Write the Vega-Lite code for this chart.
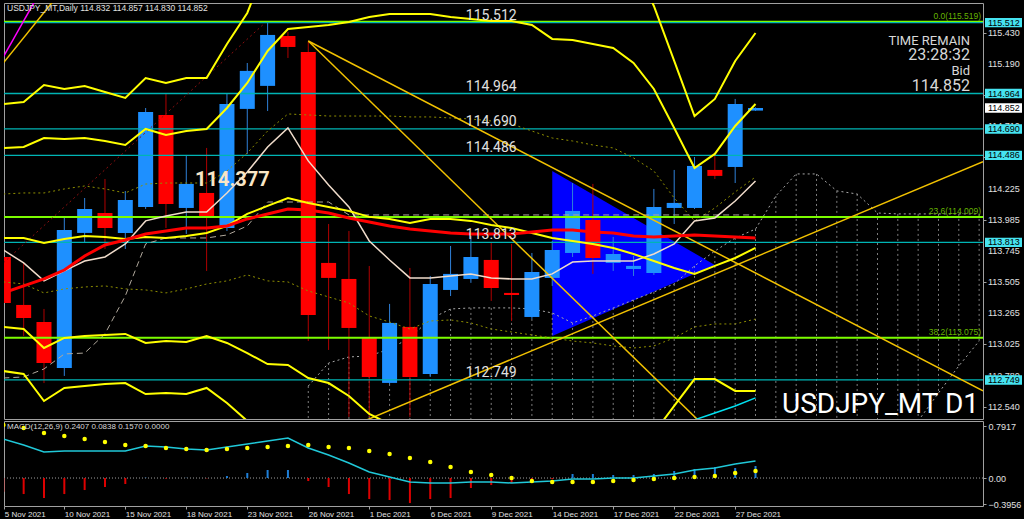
{
  "$schema": "https://vega.github.io/schema/vega-lite/v6.json",
  "background": "#000000",
  "padding": {"left": 2, "top": 2, "right": 0, "bottom": 0},
  "spacing": 2,
  "bounds": "flush",
  "config": {
    "view": {"stroke": "#a0a0a0", "strokeWidth": 1},
    "axis": {"labelColor": "#e0e0e0", "labelFont": "Liberation Sans", "labelFontSize": 9, "tickColor": "#a0a0a0", "tickSize": 3, "domain": false, "grid": false, "labelPadding": 2, "labelOverlap": false, "labelBound": false, "labelFlush": false}
  },
  "datasets": {
    "candles": [
      {"i":0,"o":113.700,"h":113.746,"l":113.282,"c":113.344},
      {"i":1,"o":113.329,"h":113.654,"l":113.089,"c":113.228},
      {"i":2,"o":113.197,"h":113.298,"l":112.725,"c":112.880},
      {"i":3,"o":112.842,"h":114.002,"l":112.780,"c":113.909},
      {"i":4,"o":113.886,"h":114.156,"l":113.808,"c":114.071},
      {"i":5,"o":114.040,"h":114.303,"l":113.762,"c":113.924},
      {"i":6,"o":113.886,"h":114.210,"l":113.762,"c":114.141},
      {"i":7,"o":114.087,"h":114.852,"l":114.071,"c":114.822},
      {"i":8,"o":114.798,"h":114.961,"l":113.924,"c":114.110},
      {"i":9,"o":114.079,"h":114.489,"l":113.878,"c":114.265},
      {"i":10,"o":114.195,"h":114.543,"l":113.592,"c":114.017},
      {"i":11,"o":113.924,"h":114.961,"l":113.901,"c":114.883},
      {"i":12,"o":114.845,"h":115.200,"l":114.497,"c":115.139},
      {"i":13,"o":115.023,"h":115.518,"l":114.829,"c":115.417},
      {"i":14,"o":115.409,"h":115.440,"l":115.239,"c":115.324},
      {"i":15,"o":115.286,"h":115.363,"l":113.050,"c":113.252},
      {"i":16,"o":113.654,"h":113.955,"l":112.981,"c":113.538},
      {"i":17,"o":113.530,"h":113.901,"l":112.463,"c":113.151},
      {"i":18,"o":113.074,"h":113.630,"l":112.463,"c":112.772},
      {"i":19,"o":112.726,"h":113.337,"l":112.718,"c":113.190},
      {"i":20,"o":113.159,"h":113.615,"l":112.463,"c":112.772},
      {"i":21,"o":112.795,"h":113.553,"l":112.772,"c":113.491},
      {"i":22,"o":113.445,"h":113.785,"l":113.398,"c":113.569},
      {"i":23,"o":113.530,"h":113.862,"l":113.500,"c":113.700},
      {"i":24,"o":113.677,"h":113.816,"l":113.360,"c":113.460},
      {"i":25,"o":113.422,"h":113.801,"l":113.205,"c":113.406},
      {"i":26,"o":113.236,"h":113.731,"l":113.221,"c":113.584},
      {"i":27,"o":113.538,"h":113.824,"l":113.476,"c":113.754},
      {"i":28,"o":113.731,"h":114.272,"l":113.700,"c":114.056},
      {"i":29,"o":113.986,"h":114.265,"l":113.569,"c":113.692},
      {"i":30,"o":113.654,"h":113.855,"l":113.592,"c":113.723},
      {"i":31,"o":113.607,"h":113.708,"l":113.553,"c":113.631},
      {"i":32,"o":113.576,"h":114.226,"l":113.561,"c":114.087},
      {"i":33,"o":114.079,"h":114.373,"l":113.955,"c":114.118},
      {"i":34,"o":114.079,"h":114.473,"l":114.071,"c":114.404},
      {"i":35,"o":114.373,"h":114.504,"l":114.303,"c":114.327},
      {"i":36,"o":114.396,"h":114.922,"l":114.272,"c":114.883},
      {"i":37,"o":114.832,"h":114.857,"l":114.830,"c":114.852}
    ],
    "ind": [
      {"i":0,"mid":113.847,"up2":114.543,"up3":114.883,"lo2":113.159,"lo3":112.818,"o1u":114.187,"o1l":113.507,"beige":113.754,"ma":113.422,"kijun":112.764},
      {"i":1,"mid":113.847,"up2":114.551,"up3":114.899,"lo2":113.143,"lo3":112.795,"o1u":114.195,"o1l":113.491,"beige":113.654,"ma":113.476,"kijun":112.772},
      {"i":2,"mid":113.808,"up2":114.620,"up3":115.030,"lo2":112.996,"lo3":112.586,"o1u":114.195,"o1l":113.422,"beige":113.515,"ma":113.530,"kijun":112.834},
      {"i":3,"mid":113.839,"up2":114.613,"up3":114.999,"lo2":113.074,"lo3":112.687,"o1u":114.226,"o1l":113.453,"beige":113.592,"ma":113.599,"kijun":112.950},
      {"i":4,"mid":113.862,"up2":114.620,"up3":115.022,"lo2":113.089,"lo3":112.702,"o1u":114.249,"o1l":113.468,"beige":113.669,"ma":113.708,"kijun":112.957},
      {"i":5,"mid":113.855,"up2":114.597,"up3":114.976,"lo2":113.097,"lo3":112.718,"o1u":114.226,"o1l":113.476,"beige":113.700,"ma":113.793,"kijun":113.105},
      {"i":6,"mid":113.839,"up2":114.566,"up3":114.930,"lo2":113.105,"lo3":112.725,"o1u":114.195,"o1l":113.453,"beige":113.801,"ma":113.831,"kijun":113.399},
      {"i":7,"mid":113.855,"up2":114.690,"up3":115.084,"lo2":113.035,"lo3":112.640,"o1u":114.264,"o1l":113.445,"beige":113.979,"ma":113.878,"kijun":113.801},
      {"i":8,"mid":113.847,"up2":114.644,"up3":115.046,"lo2":113.050,"lo3":112.648,"o1u":114.272,"o1l":113.422,"beige":114.017,"ma":113.901,"kijun":113.847},
      {"i":9,"mid":113.862,"up2":114.674,"up3":115.084,"lo2":113.043,"lo3":112.640,"o1u":114.272,"o1l":113.453,"beige":114.048,"ma":113.924,"kijun":113.847},
      {"i":10,"mid":113.886,"up2":114.690,"up3":115.084,"lo2":113.089,"lo3":112.687,"o1u":114.272,"o1l":113.491,"beige":114.048,"ma":113.924,"kijun":113.847},
      {"i":11,"mid":113.940,"up2":114.852,"up3":115.347,"lo2":113.035,"lo3":112.571,"o1u":114.365,"o1l":113.515,"beige":114.195,"ma":113.940,"kijun":113.870},
      {"i":12,"mid":114.033,"up2":115.046,"up3":115.587,"lo2":112.957,"lo3":112.432,"o1u":114.504,"o1l":113.561,"beige":114.357,"ma":113.994,"kijun":113.940},
      {"i":13,"mid":114.095,"up2":115.293,"up3":115.989,"lo2":112.872,"lo3":112.200,"o1u":114.674,"o1l":113.515,"beige":114.551,"ma":114.032,"kijun":114.125},
      {"i":14,"mid":114.156,"up2":115.463,"up3":115.989,"lo2":112.865,"lo3":112.200,"o1u":114.806,"o1l":113.507,"beige":114.698,"ma":114.071,"kijun":114.125},
      {"i":15,"mid":114.118,"up2":115.479,"up3":115.989,"lo2":112.764,"lo3":112.200,"o1u":114.798,"o1l":113.437,"beige":114.443,"ma":114.063,"kijun":114.125},
      {"i":16,"mid":114.087,"up2":115.494,"up3":115.989,"lo2":112.725,"lo3":112.200,"o1u":114.790,"o1l":113.391,"beige":114.257,"ma":114.040,"kijun":114.125},
      {"i":17,"mid":114.056,"up2":115.517,"up3":115.989,"lo2":112.625,"lo3":112.200,"o1u":114.790,"o1l":113.344,"beige":114.087,"ma":114.002,"kijun":114.025},
      {"i":18,"mid":114.010,"up2":115.556,"up3":115.989,"lo2":112.486,"lo3":112.200,"o1u":114.790,"o1l":113.244,"beige":113.824,"ma":113.971,"kijun":114.025},
      {"i":19,"mid":113.994,"up2":115.579,"up3":115.989,"lo2":112.408,"lo3":112.200,"o1u":114.790,"o1l":113.197,"beige":113.677,"ma":113.940,"kijun":114.025},
      {"i":20,"mid":113.963,"up2":115.579,"up3":115.989,"lo2":112.346,"lo3":112.200,"o1u":114.783,"o1l":113.143,"beige":113.538,"ma":113.917,"kijun":114.025},
      {"i":21,"mid":113.994,"up2":115.579,"up3":115.989,"lo2":112.408,"lo3":112.200,"o1u":114.783,"o1l":113.205,"beige":113.538,"ma":113.901,"kijun":114.025},
      {"i":22,"mid":113.994,"up2":115.556,"up3":115.989,"lo2":112.432,"lo3":112.200,"o1u":114.775,"o1l":113.213,"beige":113.553,"ma":113.886,"kijun":114.025},
      {"i":23,"mid":113.979,"up2":115.541,"up3":115.989,"lo2":112.416,"lo3":112.200,"o1u":114.767,"o1l":113.190,"beige":113.569,"ma":113.878,"kijun":114.025},
      {"i":24,"mid":113.948,"up2":115.525,"up3":115.989,"lo2":112.370,"lo3":112.200,"o1u":114.752,"o1l":113.143,"beige":113.538,"ma":113.878,"kijun":114.025},
      {"i":25,"mid":113.924,"up2":115.525,"up3":115.989,"lo2":112.323,"lo3":112.200,"o1u":114.729,"o1l":113.120,"beige":113.530,"ma":113.878,"kijun":114.025},
      {"i":26,"mid":113.886,"up2":115.494,"up3":115.989,"lo2":112.277,"lo3":112.200,"o1u":114.674,"o1l":113.097,"beige":113.530,"ma":113.893,"kijun":114.025},
      {"i":27,"mid":113.847,"up2":115.386,"up3":115.989,"lo2":112.308,"lo3":112.200,"o1u":114.620,"o1l":113.074,"beige":113.569,"ma":113.909,"kijun":114.025},
      {"i":28,"mid":113.824,"up2":115.378,"up3":115.989,"lo2":112.269,"lo3":112.200,"o1u":114.597,"o1l":113.050,"beige":113.661,"ma":113.909,"kijun":114.025},
      {"i":29,"mid":113.801,"up2":115.347,"up3":115.989,"lo2":112.254,"lo3":112.200,"o1u":114.566,"o1l":113.035,"beige":113.669,"ma":113.893,"kijun":114.025},
      {"i":30,"mid":113.770,"up2":115.316,"up3":115.989,"lo2":112.223,"lo3":112.200,"o1u":114.543,"o1l":113.012,"beige":113.669,"ma":113.886,"kijun":114.025},
      {"i":31,"mid":113.723,"up2":115.200,"up3":115.989,"lo2":112.246,"lo3":112.200,"o1u":114.466,"o1l":112.996,"beige":113.669,"ma":113.862,"kijun":114.025},
      {"i":32,"mid":113.669,"up2":114.999,"up3":115.641,"lo2":112.339,"lo3":112.200,"o1u":114.365,"o1l":113.012,"beige":113.723,"ma":113.855,"kijun":114.025},
      {"i":33,"mid":113.615,"up2":114.698,"up3":115.216,"lo2":112.548,"lo3":112.200,"o1u":114.156,"o1l":113.074,"beige":113.801,"ma":113.862,"kijun":114.025},
      {"i":34,"mid":113.569,"up2":114.388,"up3":114.790,"lo2":112.756,"lo3":112.200,"o1u":113.979,"o1l":113.159,"beige":113.979,"ma":113.870,"kijun":114.025},
      {"i":35,"mid":113.631,"up2":114.497,"up3":114.922,"lo2":112.756,"lo3":112.200,"o1u":114.079,"o1l":113.182,"beige":114.002,"ma":113.862,"kijun":114.025},
      {"i":36,"mid":113.692,"up2":114.713,"up3":115.216,"lo2":112.664,"lo3":112.200,"o1u":114.203,"o1l":113.182,"beige":114.133,"ma":113.855,"kijun":114.025},
      {"i":37,"mid":113.770,"up2":114.883,"up3":115.432,"lo2":112.664,"lo3":112.200,"o1u":114.319,"o1l":113.220,"beige":114.288,"ma":113.847,"kijun":114.025}
    ],
    "cloud": [
      {"i":15,"top":112.702,"bot":112.122},{"i":16,"top":112.880,"bot":112.122},{"i":17,"top":112.927,"bot":112.122},
      {"i":18,"top":112.934,"bot":112.122},{"i":19,"top":112.989,"bot":112.122},{"i":20,"top":113.074,"bot":112.122},
      {"i":21,"top":113.220,"bot":112.122},{"i":22,"top":113.298,"bot":112.122},{"i":23,"top":113.306,"bot":112.122},
      {"i":24,"top":113.306,"bot":112.122},{"i":25,"top":113.306,"bot":112.122},{"i":26,"top":113.298,"bot":112.122},
      {"i":27,"top":113.267,"bot":112.122},{"i":28,"top":113.190,"bot":112.122},{"i":29,"top":113.244,"bot":112.122},
      {"i":30,"top":113.306,"bot":112.122},{"i":31,"top":113.368,"bot":112.122},{"i":32,"top":113.429,"bot":112.122},
      {"i":33,"top":113.491,"bot":112.122},{"i":34,"top":113.631,"bot":112.122},{"i":35,"top":113.746,"bot":112.122},
      {"i":36,"top":113.847,"bot":112.122},{"i":37,"top":113.916,"bot":112.122},{"i":38,"top":114.172,"bot":112.122},
      {"i":39,"top":114.342,"bot":112.122},{"i":40,"top":114.342,"bot":112.122},{"i":41,"top":114.211,"bot":112.122},
      {"i":42,"top":114.187,"bot":112.122},{"i":43,"top":114.040,"bot":112.122},{"i":44,"top":114.033,"bot":112.122},
      {"i":45,"top":114.033,"bot":112.432},{"i":46,"top":114.033,"bot":112.648},{"i":47,"top":114.033,"bot":112.857},
      {"i":48,"top":114.033,"bot":113.050}
    ],
    "macd": [
      {"i":0,"m":0.594,"s":0.807,"h":-0.21},{"i":1,"m":0.502,"s":0.761,"h":-0.244},{"i":2,"m":0.396,"s":0.685,"h":-0.304},
      {"i":3,"m":0.411,"s":0.639,"h":-0.244},{"i":4,"m":0.411,"s":0.594,"h":-0.183},{"i":5,"m":0.411,"s":0.548,"h":-0.137},
      {"i":6,"m":0.411,"s":0.502,"h":-0.091},{"i":7,"m":0.487,"s":0.487,"h":0.005},{"i":8,"m":0.472,"s":0.457,"h":-0.01},
      {"i":9,"m":0.441,"s":0.441,"h":0.003},{"i":10,"m":0.426,"s":0.426,"h":-0.005},{"i":11,"m":0.472,"s":0.441,"h":0.030},
      {"i":12,"m":0.518,"s":0.457,"h":0.076},{"i":13,"m":0.563,"s":0.472,"h":0.122},{"i":14,"m":0.609,"s":0.487,"h":0.122},
      {"i":15,"m":0.457,"s":0.502,"h":-0.046},{"i":16,"m":0.350,"s":0.472,"h":-0.137},{"i":17,"m":0.228,"s":0.457,"h":-0.244},
      {"i":18,"m":0.091,"s":0.411,"h":-0.320},{"i":19,"m":0.015,"s":0.365,"h":-0.335},{"i":20,"m":-0.061,"s":0.304,"h":-0.381},
      {"i":21,"m":-0.076,"s":0.244,"h":-0.320},{"i":22,"m":-0.076,"s":0.167,"h":-0.304},{"i":23,"m":-0.061,"s":0.091,"h":-0.152},
      {"i":24,"m":-0.061,"s":0.046,"h":-0.107},{"i":25,"m":-0.076,"s":0.000,"h":-0.076},{"i":26,"m":-0.061,"s":-0.046,"h":-0.030},
      {"i":27,"m":-0.046,"s":-0.061,"h":-0.015},{"i":28,"m":-0.015,"s":-0.061,"h":0.061},{"i":29,"m":-0.015,"s":-0.061,"h":0.061},
      {"i":30,"m":0.000,"s":-0.046,"h":0.046},{"i":31,"m":0.000,"s":-0.030,"h":0.046},{"i":32,"m":0.030,"s":-0.015,"h":0.061},
      {"i":33,"m":0.061,"s":0.000,"h":0.107},{"i":34,"m":0.122,"s":0.015,"h":0.137},{"i":35,"m":0.152,"s":0.030,"h":0.167},
      {"i":36,"m":0.213,"s":0.076,"h":0.152},{"i":37,"m":0.259,"s":0.107,"h":0.183}
    ],
    "trend": [
      {"id":"A","i":15,"p":115.370},{"id":"A","i":48.19,"p":112.664},
      {"id":"B","i":15,"p":115.370},{"id":"B","i":34.5,"p":112.389},
      {"id":"C","i":17,"p":112.382},{"id":"C","i":48.19,"p":114.437},
      {"id":"D","i":0,"p":115.200},{"id":"D","i":2.5,"p":115.688}
    ],
    "yticks": [{"v":115.43},{"v":115.19},{"v":114.71},{"v":114.225},{"v":113.985},{"v":113.745},{"v":113.505},{"v":113.265},{"v":113.025},{"v":112.78},{"v":112.54}],
    "cyanl": [{"p":115.512},{"p":114.964},{"p":114.690},{"p":114.486},{"p":113.813},{"p":112.749}],
    "greenl": [{"p":115.519,"t":"0.0(115.519)"},{"p":114.009,"t":"23.6(114.009)"},{"p":113.075,"t":"38.2(113.075)"}]
  },
  "vconcat": [
    {
      "width": 979,
      "height": 416,
      "layer": [
        {
          "data": {"values": [{"i":27,"top":114.365,"bot":113.089},{"i":35,"top":113.638,"bot":113.638}]},
          "mark": {"type": "area", "color": "#0000ff", "opacity": 1, "clip": true},
          "encoding": {
            "x": {"field": "i", "type": "quantitative", "title": null, "scale": {"domain": [0.033, 48.19], "nice": false, "zero": false, "padding": 0}, "axis": null},
            "y": {"field": "top", "type": "quantitative", "title": null,
                  "scale": {"domain": [112.447, 115.664], "nice": false, "zero": false},
                  "axis": {"orient": "right", "title": null, "labels": false, "values": [115.43, 115.19, 114.95, 114.71, 114.47, 114.225, 113.985, 113.745, 113.505, 113.265, 113.025, 112.78, 112.54], "minExtent": 40, "maxExtent": 40}},
            "y2": {"field": "bot"}
          }
        },
        {
          "data": {"name": "cloud"},
          "mark": {"type": "rule", "color": "#a8a8a8", "strokeWidth": 1, "strokeDash": [2, 3], "opacity": 0.75, "clip": true},
          "encoding": {"x": {"field": "i", "type": "quantitative", "title": null}, "y": {"field": "top", "type": "quantitative", "title": null}, "y2": {"field": "bot"}}
        },
        {
          "data": {"name": "cloud"},
          "mark": {"type": "line", "color": "#a8a8a8", "strokeWidth": 1, "strokeDash": [2, 3], "clip": true},
          "encoding": {"x": {"field": "i", "type": "quantitative", "title": null}, "y": {"field": "top", "type": "quantitative", "title": null}}
        },
        {
          "data": {"name": "cloud"},
          "transform": [{"filter": "datum.i >= 44"}],
          "mark": {"type": "line", "color": "#a8a8a8", "strokeWidth": 1, "strokeDash": [2, 3], "clip": true},
          "encoding": {"x": {"field": "i", "type": "quantitative", "title": null}, "y": {"field": "bot", "type": "quantitative", "title": null}}
        },
        {
          "data": {"name": "candles"},
          "mark": {"type": "rule", "strokeWidth": 1, "clip": true},
          "encoding": {
            "x": {"field": "i", "type": "quantitative", "title": null},
            "y": {"field": "l", "type": "quantitative", "title": null},
            "y2": {"field": "h"},
            "color": {"condition": {"test": "datum.c >= datum.o", "value": "#2f80d8"}, "value": "#b00000"}
          }
        },
        {
          "data": {"name": "candles"},
          "mark": {"type": "bar", "width": 15, "clip": true},
          "encoding": {
            "x": {"field": "i", "type": "quantitative", "title": null},
            "y": {"field": "o", "type": "quantitative", "title": null},
            "y2": {"field": "c"},
            "color": {"condition": {"test": "datum.c >= datum.o", "value": "#1e90ff"}, "value": "#ff0000"}
          }
        },
        {
          "data": {"name": "greenl"},
          "mark": {"type": "rule", "color": "#7cfc00", "strokeWidth": 2},
          "encoding": {"y": {"field": "p", "type": "quantitative", "title": null}}
        },
        {
          "data": {"name": "cyanl"},
          "mark": {"type": "rule", "color": "#00b4b4", "strokeWidth": 1.3},
          "encoding": {"y": {"field": "p", "type": "quantitative", "title": null}}
        },
        {
          "data": {"name": "ind"},
          "transform": [{"fold": ["o1u", "o1l"], "as": ["k", "v"]}],
          "mark": {"type": "line", "color": "#8f8f00", "strokeWidth": 1, "strokeDash": [2, 3], "clip": true},
          "encoding": {"x": {"field": "i", "type": "quantitative", "title": null}, "y": {"field": "v", "type": "quantitative", "title": null}, "detail": {"field": "k"}}
        },
        {
          "data": {"name": "ind"},
          "mark": {"type": "line", "color": "#b0a89c", "strokeWidth": 1, "strokeDash": [6, 4], "clip": true},
          "encoding": {"x": {"field": "i", "type": "quantitative", "title": null}, "y": {"field": "kijun", "type": "quantitative", "title": null}}
        },
        {
          "data": {"values": [{"i": 0, "p": 113.654}, {"i": 12.87, "p": 115.510}]},
          "mark": {"type": "line", "color": "#8b1010", "strokeWidth": 1, "strokeDash": [2, 3], "clip": true},
          "encoding": {"x": {"field": "i", "type": "quantitative", "title": null}, "y": {"field": "p", "type": "quantitative", "title": null}}
        },
        {
          "data": {"values": [{"i": 0, "p": 115.247}, {"i": 2, "p": 115.804}]},
          "mark": {"type": "line", "color": "#ff00ff", "strokeWidth": 1.5, "clip": true},
          "encoding": {"x": {"field": "i", "type": "quantitative", "title": null}, "y": {"field": "p", "type": "quantitative", "title": null}}
        },
        {
          "data": {"name": "trend"},
          "mark": {"type": "line", "color": "#f2c200", "strokeWidth": 1.5, "clip": true},
          "encoding": {"x": {"field": "i", "type": "quantitative", "title": null}, "y": {"field": "p", "type": "quantitative", "title": null}, "detail": {"field": "id"}}
        },
        {
          "data": {"name": "ind"},
          "mark": {"type": "line", "color": "#f0dccb", "strokeWidth": 1.5, "clip": true},
          "encoding": {"x": {"field": "i", "type": "quantitative", "title": null}, "y": {"field": "beige", "type": "quantitative", "title": null}}
        },
        {
          "data": {"name": "ind"},
          "transform": [{"fold": ["up3", "up2", "mid", "lo2", "lo3"], "as": ["k", "v"]}],
          "mark": {"type": "line", "color": "#ffff00", "strokeWidth": 2, "clip": true},
          "encoding": {"x": {"field": "i", "type": "quantitative", "title": null}, "y": {"field": "v", "type": "quantitative", "title": null}, "detail": {"field": "k"}}
        },
        {
          "data": {"name": "ind"},
          "mark": {"type": "line", "color": "#ff0000", "strokeWidth": 3, "clip": true},
          "encoding": {"x": {"field": "i", "type": "quantitative", "title": null}, "y": {"field": "ma", "type": "quantitative", "title": null}}
        },
        {
          "data": {"values": [{"i": 33, "p": 112.277}, {"i": 34, "p": 112.44}, {"i": 35, "p": 112.494}, {"i": 36, "p": 112.548}, {"i": 37, "p": 112.610}]},
          "mark": {"type": "line", "color": "#00e0f0", "strokeWidth": 1.5, "clip": true},
          "encoding": {"x": {"field": "i", "type": "quantitative", "title": null}, "y": {"field": "p", "type": "quantitative", "title": null}}
        },
        {
          "data": {"name": "cyanl"},
          "mark": {"type": "text", "font": "Roboto", "fontSize": 14, "color": "#e0e0e0", "align": "center", "baseline": "alphabetic", "dy": -3},
          "encoding": {"x": {"datum": 24, "type": "quantitative"}, "y": {"field": "p", "type": "quantitative", "title": null}, "text": {"field": "p", "format": ".3f"}}
        },
        {
          "data": {"name": "greenl"},
          "mark": {"type": "text", "font": "Liberation Sans", "fontSize": 8.5, "color": "#66b400", "align": "right", "baseline": "alphabetic", "dy": -3, "dx": -2},
          "encoding": {"x": {"datum": 48.19, "type": "quantitative"}, "y": {"field": "p", "type": "quantitative", "title": null}, "text": {"field": "t"}}
        },
        {
          "data": {"name": "yticks"},
          "mark": {"type": "text", "font": "Liberation Sans", "fontSize": 9, "color": "#e0e0e0", "align": "left", "baseline": "middle", "dx": 5, "clip": false},
          "encoding": {"x": {"datum": 48.19, "type": "quantitative"}, "y": {"field": "v", "type": "quantitative", "title": null}, "text": {"field": "v", "format": ".3f"}}
        },
        {
          "data": {"name": "cyanl"},
          "mark": {"type": "point", "filled": true, "color": "#46e3f0", "opacity": 1, "strokeWidth": 0, "size": 400, "shape": "M0,-0.47L3.7,-0.47L3.7,0.47L0,0.47Z", "xOffset": 2, "clip": false},
          "encoding": {"x": {"datum": 48.19, "type": "quantitative"}, "y": {"field": "p", "type": "quantitative", "title": null}}
        },
        {
          "data": {"values": [{"p": 114.852}]},
          "mark": {"type": "point", "filled": true, "color": "#ffffff", "opacity": 1, "strokeWidth": 0, "size": 400, "shape": "M0,-0.47L3.7,-0.47L3.7,0.47L0,0.47Z", "xOffset": 2, "clip": false},
          "encoding": {"x": {"datum": 48.19, "type": "quantitative"}, "y": {"field": "p", "type": "quantitative", "title": null}}
        },
        {
          "data": {"values": [{"p": 115.512}, {"p": 114.964}, {"p": 114.690}, {"p": 114.486}, {"p": 113.813}, {"p": 112.749}, {"p": 114.852}]},
          "mark": {"type": "text", "font": "Liberation Sans", "fontSize": 9, "color": "#000000", "align": "left", "baseline": "middle", "dx": 5},
          "encoding": {"x": {"datum": 48.19, "type": "quantitative"}, "y": {"field": "p", "type": "quantitative", "title": null}, "text": {"field": "p", "format": ".3f"}}
        },
        {
          "data": {"values": [{"t": "USDJPY_MT,Daily  114.832 114.857 114.830 114.852"}]},
          "mark": {"type": "text", "font": "Liberation Sans", "fontSize": 8.5, "color": "#e0e0e0", "align": "left", "baseline": "top", "dx": 3, "dy": 1},
          "encoding": {"x": {"datum": 0.033, "type": "quantitative"}, "y": {"datum": 115.664, "type": "quantitative"}, "text": {"field": "t"}}
        },
        {
          "data": {"values": [{"t": "TIME REMAIN"}]},
          "mark": {"type": "text", "font": "Roboto", "fontSize": 13, "color": "#d8d8d8", "align": "right", "baseline": "alphabetic", "dx": -13},
          "encoding": {"x": {"datum": 48.19, "type": "quantitative"}, "y": {"datum": 115.337, "type": "quantitative"}, "text": {"field": "t"}}
        },
        {
          "data": {"values": [{"t": "23:28:32"}]},
          "mark": {"type": "text", "font": "Roboto", "fontSize": 16, "color": "#d8d8d8", "align": "right", "baseline": "alphabetic", "dx": -13},
          "encoding": {"x": {"datum": 48.19, "type": "quantitative"}, "y": {"datum": 115.224, "type": "quantitative"}, "text": {"field": "t"}}
        },
        {
          "data": {"values": [{"t": "Bid"}]},
          "mark": {"type": "text", "font": "Roboto", "fontSize": 13, "color": "#d8d8d8", "align": "right", "baseline": "alphabetic", "dx": -13},
          "encoding": {"x": {"datum": 48.19, "type": "quantitative"}, "y": {"datum": 115.105, "type": "quantitative"}, "text": {"field": "t"}}
        },
        {
          "data": {"values": [{"t": "114.852"}]},
          "mark": {"type": "text", "font": "Roboto", "fontSize": 16, "color": "#d8d8d8", "align": "right", "baseline": "alphabetic", "dx": -13},
          "encoding": {"x": {"datum": 48.19, "type": "quantitative"}, "y": {"datum": 114.984, "type": "quantitative"}, "text": {"field": "t"}}
        },
        {
          "data": {"values": [{"t": "USDJPY_MT D1"}]},
          "mark": {"type": "text", "font": "Roboto", "fontSize": 28, "color": "#ffffff", "align": "right", "baseline": "alphabetic", "dx": -4},
          "encoding": {"x": {"datum": 48.19, "type": "quantitative"}, "y": {"datum": 112.494, "type": "quantitative"}, "text": {"field": "t"}}
        },
        {
          "data": {"values": [{"t": "114.377"}]},
          "mark": {"type": "text", "font": "Roboto", "fontWeight": "bold", "fontSize": 20, "color": "#f8e6c6", "align": "center", "baseline": "alphabetic"},
          "encoding": {"x": {"datum": 11.27, "type": "quantitative"}, "y": {"datum": 114.249, "type": "quantitative"}, "text": {"field": "t"}}
        }
      ]
    },
    {
      "width": 979,
      "height": 85,
      "layer": [
        {
          "data": {"values": [{"z": 0}]},
          "mark": {"type": "rule", "color": "#a0a0a0", "strokeWidth": 1, "strokeDash": [1, 2]},
          "encoding": {
            "y": {"field": "z", "type": "quantitative", "title": null,
                  "scale": {"domain": [-0.426, 0.868], "nice": false, "zero": false},
                  "axis": {"orient": "right", "title": null, "values": [0.7917, 0, -0.3956], "labelExpr": "datum.value == 0 ? '0.00' : format(datum.value, '.4f')", "labelOverlap": false, "labelBound": false, "labelFlush": false, "minExtent": 40, "maxExtent": 40}}
          }
        },
        {
          "data": {"name": "macd"},
          "mark": {"type": "rule", "strokeWidth": 2, "clip": true},
          "encoding": {
            "x": {"field": "i", "type": "quantitative", "title": null,
                  "scale": {"domain": [0.033, 48.19], "nice": false, "zero": false, "padding": 0},
                  "axis": {"orient": "bottom", "title": null, "values": [0.05, 3, 6, 9, 12, 15, 18, 21, 24, 27, 30, 33, 36],
                           "labelExpr": "['5 Nov 2021','10 Nov 2021','15 Nov 2021','18 Nov 2021','23 Nov 2021','26 Nov 2021','1 Dec 2021','6 Dec 2021','9 Dec 2021','14 Dec 2021','17 Dec 2021','22 Dec 2021','27 Dec 2021'][round(datum.value/3)]",
                           "labelAlign": "left", "labelBaseline": "top", "labelFontSize": 8, "labelPadding": 1, "labelOverlap": false, "labelBound": false, "labelFlush": false}},
            "y": {"field": "h", "type": "quantitative", "title": null},
            "y2": {"datum": 0},
            "color": {"condition": {"test": "datum.h >= 0", "value": "#1e7fd8"}, "value": "#dd0000"}
          }
        },
        {
          "data": {"name": "macd"},
          "mark": {"type": "line", "color": "#20c8d8", "strokeWidth": 1.5, "clip": true},
          "encoding": {"x": {"field": "i", "type": "quantitative", "title": null}, "y": {"field": "m", "type": "quantitative", "title": null}}
        },
        {
          "data": {"name": "macd"},
          "mark": {"type": "point", "filled": true, "color": "#ffff00", "opacity": 1, "size": 20, "clip": true},
          "encoding": {"x": {"field": "i", "type": "quantitative", "title": null}, "y": {"field": "s", "type": "quantitative", "title": null}}
        },
        {
          "data": {"values": [{"t": "MACD(12,26,9) 0.2407 0.0838 0.1570 0.0000"}]},
          "mark": {"type": "text", "font": "Liberation Sans", "fontSize": 8, "color": "#d8d8d8", "align": "left", "baseline": "top", "dx": 3, "dy": 2},
          "encoding": {"x": {"datum": 0.033, "type": "quantitative"}, "y": {"datum": 0.868, "type": "quantitative"}, "text": {"field": "t"}}
        }
      ]
    }
  ]
}
